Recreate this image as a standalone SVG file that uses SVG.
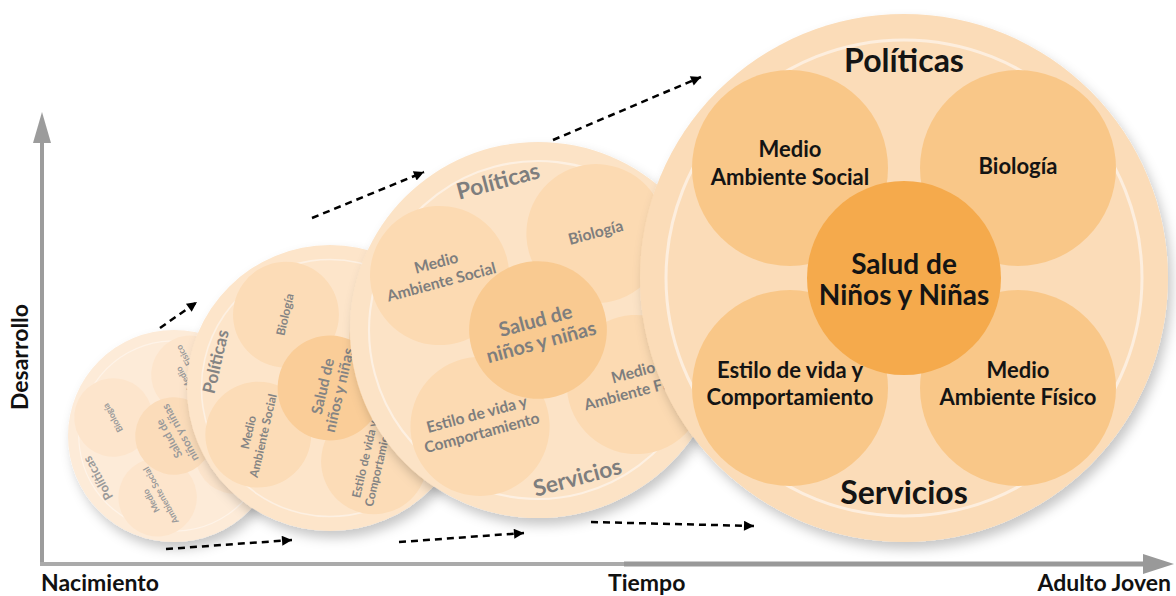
<svg xmlns="http://www.w3.org/2000/svg" width="1176" height="596" viewBox="0 0 1176 596">
<style>
text{font-family:Lato,"Noto Sans",sans-serif;font-weight:bold;text-anchor:middle}
.ax{font-size:23px;fill:#111}
.t-big{font-size:32px}
.t-pet{font-size:22px}
.t-sal{font-size:28px}
.n4 .outer{fill:#fbdcb8}.n4 .pet{fill:#f9c788}.n4 .sal{fill:#f5aa4c}.n4 .ring{stroke:#fdeede}.n4 text{fill:#141414}
.n3 .outer{fill:#fce3c6}.n3 .pet{fill:#fcdab2}.n3 .sal{fill:#f9ca91}.n3 .ring{stroke:#fdf0e2}.n3 text{fill:#7e7e7e}
.n2 .outer{fill:#fde5ca}.n2 .pet{fill:#fcdcb7}.n2 .sal{fill:#facd98}.n2 .ring{stroke:#fdf0e2}.n2 text{fill:#848484}
.n1 .outer{fill:#fdebd8}.n1 .pet{fill:#fde5cc}.n1 .sal{fill:#fbdcba}.n1 .ring{stroke:#fef3e8}.n1 text{fill:#9a9a9a}
.ring{fill:none;stroke-width:3}
.dash{fill:none;stroke:#000;stroke-width:2.5;stroke-dasharray:7 5;marker-end:url(#ah)}
</style>
<defs>
<filter id="sh" x="-20%" y="-20%" width="150%" height="150%">
<feDropShadow dx="4" dy="7" stdDeviation="6" flood-color="#000" flood-opacity="0.22"/>
</filter>
<marker id="ah" viewBox="0 0 10 10" refX="10" refY="5" markerWidth="13" markerHeight="10" markerUnits="userSpaceOnUse" orient="auto">
<path d="M0,0 L10,5 L0,10 z" fill="#000"/>
</marker>
</defs>
<rect width="1176" height="596" fill="#fff"/>

<g id="axes">
<line x1="42" y1="564" x2="42" y2="140" stroke="#9c9c9c" stroke-width="4"/>
<polygon points="33,143 42,112 51,143" fill="#9c9c9c"/>
<line x1="40" y1="564" x2="626" y2="564" stroke="#aaaaaa" stroke-width="4"/>
<line x1="624" y1="564" x2="1146" y2="564" stroke="#999999" stroke-width="5"/>
<polygon points="1143,554 1174,564 1143,574" fill="#999999"/>
<text class="ax" transform="translate(28,357) rotate(-90)">Desarrollo</text>
<text class="ax" x="41" y="591" style="text-anchor:start">Nacimiento</text>
<text class="ax" x="608" y="591" style="text-anchor:start">Tiempo</text>
<text class="ax" x="1171" y="591" style="text-anchor:end">Adulto Joven</text>
</g>

<g id="node1" class="n1">
<circle class="outer" cx="174" cy="436" r="106" filter="url(#sh)"/>
<g transform="translate(174,436) rotate(-119) scale(0.4)">
<circle class="ring" r="238"/>
<circle class="pet" cx="-114" cy="-110" r="98"/>
<circle class="pet" cx="114" cy="-110" r="98"/>
<circle class="pet" cx="-114" cy="110" r="98"/>
<circle class="pet" cx="114" cy="110" r="98"/>
<circle class="sal" r="97"/>
<text class="t-big" y="-206">Políticas</text>
<text class="t-big" y="226">Servicios</text>
<text class="t-pet" x="-114" y="-121">Medio</text>
<text class="t-pet" x="-114" y="-93">Ambiente Social</text>
<text class="t-pet" x="114" y="-104">Biología</text>
<text class="t-pet" x="-114" y="100">Estilo de vida y</text>
<text class="t-pet" x="-114" y="127">Comportamiento</text>
<text class="t-pet" x="114" y="100">Medio</text>
<text class="t-pet" x="114" y="127">Ambiente Físico</text>
<text class="t-sal" y="-4">Salud de</text>
<text class="t-sal" y="27">niños y niñas</text>
</g>
</g>

<g id="node2" class="n2">
<circle class="outer" cx="330" cy="388" r="143" filter="url(#sh)"/>
<g transform="translate(330,388) rotate(-77) scale(0.54)">
<circle class="ring" r="238"/>
<circle class="pet" cx="-114" cy="-110" r="98"/>
<circle class="pet" cx="114" cy="-110" r="98"/>
<circle class="pet" cx="-114" cy="110" r="98"/>
<circle class="pet" cx="114" cy="110" r="98"/>
<circle class="sal" r="97"/>
<text class="t-big" y="-206">Políticas</text>
<text class="t-big" y="226">Servicios</text>
<text class="t-pet" x="-114" y="-121">Medio</text>
<text class="t-pet" x="-114" y="-93">Ambiente Social</text>
<text class="t-pet" x="114" y="-104">Biología</text>
<text class="t-pet" x="-114" y="100">Estilo de vida y</text>
<text class="t-pet" x="-114" y="127">Comportamiento</text>
<text class="t-pet" x="114" y="100">Medio</text>
<text class="t-pet" x="114" y="127">Ambiente Físico</text>
<text class="t-sal" y="-4">Salud de</text>
<text class="t-sal" y="27">niños y niñas</text>
</g>
</g>

<g id="node3" class="n3">
<circle class="outer" cx="538" cy="330" r="188" filter="url(#sh)"/>
<g transform="translate(538,330) rotate(-15) scale(0.71)">
<circle class="ring" r="238"/>
<circle class="pet" cx="-114" cy="-110" r="98"/>
<circle class="pet" cx="114" cy="-110" r="98"/>
<circle class="pet" cx="-114" cy="110" r="98"/>
<circle class="pet" cx="114" cy="110" r="98"/>
<circle class="sal" r="97"/>
<text class="t-big" y="-206">Políticas</text>
<text class="t-big" y="226">Servicios</text>
<text class="t-pet" x="-114" y="-121">Medio</text>
<text class="t-pet" x="-114" y="-93">Ambiente Social</text>
<text class="t-pet" x="114" y="-104">Biología</text>
<text class="t-pet" x="-114" y="100">Estilo de vida y</text>
<text class="t-pet" x="-114" y="127">Comportamiento</text>
<text class="t-pet" x="114" y="100">Medio</text>
<text class="t-pet" x="114" y="127">Ambiente Físico</text>
<text class="t-sal" y="-4">Salud de</text>
<text class="t-sal" y="27">niños y niñas</text>
</g>
</g>

<g id="node4" class="n4">
<circle class="outer" cx="904" cy="278" r="264" filter="url(#sh)"/>
<g transform="translate(904,278)">
<circle class="ring" r="238"/>
<circle class="pet" cx="-114" cy="-110" r="98"/>
<circle class="pet" cx="114" cy="-110" r="98"/>
<circle class="pet" cx="-114" cy="110" r="98"/>
<circle class="pet" cx="114" cy="110" r="98"/>
<circle class="sal" r="97"/>
<text class="t-big" y="-206">Políticas</text>
<text class="t-big" y="226">Servicios</text>
<text class="t-pet" x="-114" y="-121">Medio</text>
<text class="t-pet" x="-114" y="-93">Ambiente Social</text>
<text class="t-pet" x="114" y="-104">Biología</text>
<text class="t-pet" x="-114" y="100">Estilo de vida y</text>
<text class="t-pet" x="-114" y="127">Comportamiento</text>
<text class="t-pet" x="114" y="100">Medio</text>
<text class="t-pet" x="114" y="127">Ambiente Físico</text>
<text class="t-sal" y="-4">Salud de</text>
<text class="t-sal" y="27">Niños y Niñas</text>
</g>
</g>

<g id="connectors">
<line class="dash" x1="160" y1="328" x2="197" y2="302"/>
<line class="dash" x1="312" y1="218" x2="424" y2="172"/>
<line class="dash" x1="553" y1="140" x2="701" y2="77"/>
<line class="dash" x1="166" y1="549" x2="292" y2="540"/>
<line class="dash" x1="399" y1="542" x2="524" y2="533"/>
<line class="dash" x1="591" y1="522" x2="754" y2="526"/>
</g>
</svg>
